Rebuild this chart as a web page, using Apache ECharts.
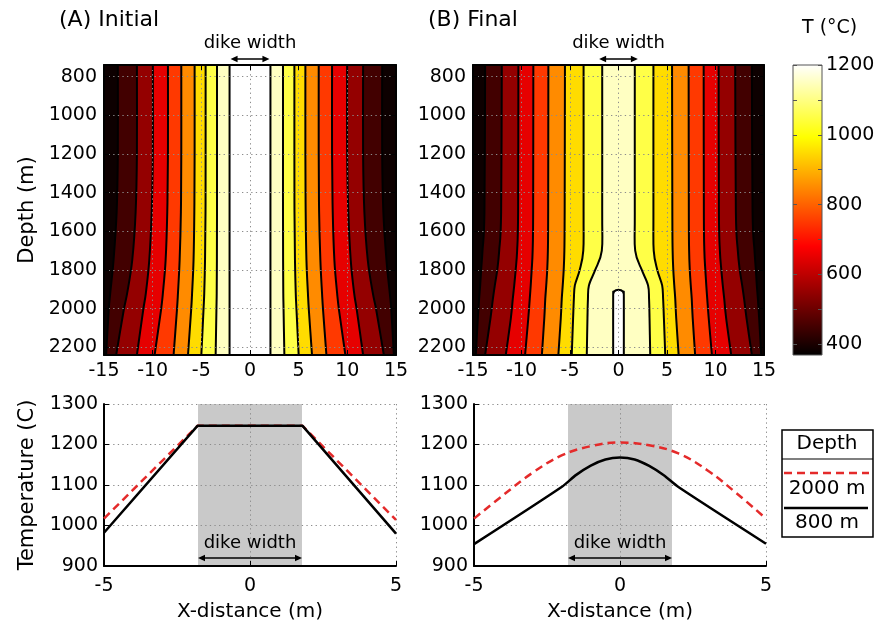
<!DOCTYPE html>
<html>
<head>
<meta charset="utf-8">
<title>Dike temperature</title>
<script src="https://cdn.jsdelivr.net/npm/echarts@6/dist/echarts.min.js"></script>
<style>
html, body { margin: 0; padding: 0; background: #fff; }
#main { width: 875px; height: 624px; }
</style>
</head>
<body>
<div id="main"></div>
<script>
// isotherm levels (deg C) and colour bar
var levels = [400, 500, 600, 700, 800, 900, 1000, 1100, 1200];
var cbarRange = [369, 1200];
var cbarLabels = [400, 600, 800, 1000, 1200];
var cbarTicks = [400, 500, 600, 700, 800, 900, 1000, 1100, 1200];
var depthTicks = [800, 1000, 1200, 1400, 1600, 1800, 2000, 2200];

// (A) Initial: x (m) of each isotherm on the left side at depthA (field is mirrored about x = 0)
var depthA = [740, 1200, 1500, 1750, 1920, 2010, 2240];
var isoA = [
    [-13.58, -13.58, -13.70, -14.02, -14.36, -14.52, -14.78],
    [-11.62, -11.62, -11.75, -12.10, -12.62, -12.98, -13.75],
    [-9.98, -9.98, -10.10, -10.35, -10.70, -10.98, -11.62],
    [-8.43, -8.43, -8.50, -8.67, -8.95, -9.15, -9.80],
    [-7.06, -7.06, -7.10, -7.23, -7.40, -7.51, -7.85],
    [-5.69, -5.69, -5.72, -5.80, -5.95, -6.05, -6.37],
    [-4.56, -4.56, -4.57, -4.62, -4.70, -4.78, -5.00],
    [-3.39, -3.39, -3.39, -3.40, -3.42, -3.45, -3.53],
    [-2.10, -2.10, -2.10, -2.10, -2.10, -2.10, -2.10]
];

// (B) Final
var depthB = [740, 1500, 1700, 1800, 1880, 1950, 2050, 2240];
var isoB = [
    [-13.75, -13.82, -14.02, -14.16, -14.26, -14.37, -14.50, -14.71],
    [-12.03, -12.10, -12.30, -12.50, -12.75, -12.95, -13.20, -13.75],
    [-10.32, -10.35, -10.45, -10.60, -10.75, -10.90, -11.10, -11.62],
    [-8.78, -8.80, -8.85, -8.95, -9.05, -9.15, -9.30, -9.63],
    [-7.23, -7.25, -7.28, -7.35, -7.45, -7.55, -7.65, -7.90],
    [-5.52, -5.55, -5.58, -5.65, -5.75, -5.85, -5.95, -6.20],
    [-3.60, -3.60, -3.63, -4.00, -4.50, -4.60, -4.68, -4.82],
    [-1.68, -1.68, -1.72, -2.40, -3.05, -3.15, -3.20, -3.27]
];
// closed 1200 isotherm at the bottom of (B)
var tipDepth = [1902, 1905, 1911, 1921, 1940, 2240];
var tipX = [0, -0.26, -0.43, -0.52, -0.55, -0.55];

// temperature profiles across the dike
var xA = [-5, -1.8, 1.8, 5];
var tA800 = [982, 1246, 1246, 980];
var tA2000 = [1017, 1246, 1246, 1014];
var xB800 = [-5, -2, -1.5, -1, -0.5, 0, 0.5, 1, 1.5, 2, 5];
var tB800 = [954, 1095, 1125, 1148, 1163, 1168, 1163, 1147, 1124, 1095, 955];
var xB2000 = [-5, -4, -3, -2, -1, 0, 1, 2, 3, 4, 5];
var tB2000 = [1017, 1075, 1130, 1173, 1196, 1205, 1198, 1178, 1136, 1079, 1017];

var dikeHalf = 1.78;   // shaded band in the profiles
var arrowHalf = 2.0;   // arrow above the maps

var FONT = 'DejaVu Sans';

function pairs(xs, ys) {
    return xs.map(function (x, i) { return [x, ys[i]]; });
}

function hot(t) {
    t = Math.max(0, Math.min(1, t));
    var r = Math.min(1, t / 0.375);
    var g = Math.max(0, Math.min(1, (t - 0.375) / 0.375));
    var b = Math.max(0, (t - 0.75) / 0.25);
    return 'rgb(' + Math.round(r * 255) + ',' + Math.round(g * 255) + ',' + Math.round(b * 255) + ')';
}
function bandColor(k) {
    if (k >= levels.length - 1) return '#ffffff';
    var lo = k < 0 ? cbarRange[0] : levels[k];
    var hi = levels[k + 1];
    return hot(((lo + hi) / 2 - cbarRange[0]) / (cbarRange[1] - cbarRange[0]));
}

// catmull-rom through screen points -> svg path
function curve(pts, cmd) {
    var d = cmd + pts[0][0] + ' ' + pts[0][1];
    for (var i = 0; i < pts.length - 1; i++) {
        var p0 = pts[i - 1] || pts[i], p1 = pts[i], p2 = pts[i + 1], p3 = pts[i + 2] || p2;
        d += ' C' + (p1[0] + (p2[0] - p0[0]) / 6) + ' ' + (p1[1] + (p2[1] - p0[1]) / 6) +
            ' ' + (p2[0] - (p3[0] - p1[0]) / 6) + ' ' + (p2[1] - (p3[1] - p1[1]) / 6) +
            ' ' + p2[0] + ' ' + p2[1];
    }
    return d;
}
function side(api, xs, ds, sign) {
    return xs.map(function (x, i) { return api.coord([sign * x, ds[i]]); });
}
function tipLoop(api) {
    var l = pairs(tipX, tipDepth);
    var loop = l.slice().reverse().concat(l.slice(1).map(function (p) { return [-p[0], p[1]]; }));
    return loop.map(function (p) { return api.coord(p); });
}

function fillRender(iso, depth, withTip) {
    return function (params, api) {
        var k = api.value(0);
        var d;
        if (withTip && k === iso.length) {
            d = curve(tipLoop(api), 'M') + ' Z';
        } else {
            var left = side(api, iso[k], depth, 1);
            var right = side(api, iso[k], depth, -1).reverse();
            d = curve(left, 'M') + ' ' + curve(right, 'L') + ' Z';
        }
        return { type: 'path', shape: { pathData: d }, style: { fill: bandColor(k), stroke: null } };
    };
}
function lineRender(iso, depth, withTip) {
    return function (params, api) {
        var k = api.value(0);
        var st = { fill: 'none', stroke: '#000', lineWidth: 2 };
        if (withTip && k === iso.length) {
            return { type: 'path', shape: { pathData: curve(tipLoop(api), 'M') }, style: st };
        }
        return { type: 'group', children: [
            { type: 'path', shape: { pathData: curve(side(api, iso[k], depth, 1), 'M') }, style: st },
            { type: 'path', shape: { pathData: curve(side(api, iso[k], depth, -1), 'M') }, style: st }
        ] };
    };
}

function arrow(x1, x2, y) {
    var h = 7, w = 3.3;
    return [
        { type: 'line', shape: { x1: x1 + 3, y1: y, x2: x2 - 3, y2: y }, style: { stroke: '#000', lineWidth: 1.5 } },
        { type: 'polygon', shape: { points: [[x1, y], [x1 + h, y - w], [x1 + h, y + w]] }, style: { fill: '#000' } },
        { type: 'polygon', shape: { points: [[x2, y], [x2 - h, y - w], [x2 - h, y + w]] }, style: { fill: '#000' } }
    ];
}
function dikeLabel(x, y) {
    return { type: 'text', style: { text: 'dike width', x: x, y: y, align: 'center', verticalAlign: 'middle',
        font: '18px "' + FONT + '"', fill: '#000' } };
}
function mapNote(params, api) {
    var a = api.coord([-arrowHalf, depthA[0]]);
    var b = api.coord([arrowHalf, depthA[0]]);
    var c = api.coord([0, depthA[0]]);
    return { type: 'group', children: arrow(a[0], b[0], a[1] - 6).concat([dikeLabel(c[0], a[1] - 22)]) };
}
function bandRender(params, api) {
    var a = api.coord([-dikeHalf, 1300]);
    var b = api.coord([dikeHalf, 900]);
    var c = api.coord([0, 900]);
    return { type: 'group', children: [
        { type: 'rect', shape: { x: a[0], y: a[1], width: b[0] - a[0], height: b[1] - a[1] }, style: { fill: '#c9c9c9' } }
    ].concat(arrow(a[0], b[0], c[1] - 8)).concat([dikeLabel(c[0], c[1] - 23)]) };
}
function cbarRender(params, api) {
    var a = api.coord([0, cbarRange[1]]);
    var b = api.coord([1, cbarRange[0]]);
    return { type: 'rect', shape: { x: a[0], y: a[1], width: b[0] - a[0], height: b[1] - a[1] },
        style: { stroke: '#555', lineWidth: 1, fill: { type: 'linear', x: 0, y: 1, x2: 0, y2: 0, colorStops: [
            { offset: 0, color: '#000000' }, { offset: 0.375, color: '#ff0000' },
            { offset: 0.75, color: '#ffff00' }, { offset: 1, color: '#ffffff' }] } } };
}

function plain(v) { return String(v); }
var labelStyle = { color: '#000', fontSize: 19, fontFamily: FONT, formatter: plain };
var dots = { show: true, lineStyle: { color: '#8c8c8c', width: 1, type: [1.3, 3.3] } };
var frame = { show: true, onZero: false, lineStyle: { color: '#000', width: 2 } };
var inTick = { show: true, inside: true, length: 5, lineStyle: { color: '#000', width: 1 } };

function mapX(grid, pos) {
    return { gridIndex: grid, type: 'value', position: pos, min: -15, max: 15, interval: 5, z: 5,
        axisLine: frame, axisTick: inTick,
        axisLabel: pos === 'bottom' ? Object.assign({ margin: 7 }, labelStyle) : { show: false },
        splitLine: pos === 'bottom' ? dots : { show: false } };
}
function mapY(grid, pos, name) {
    return { gridIndex: grid, type: 'value', position: pos, inverse: true, min: depthA[0], max: depthA[depthA.length - 1], z: 5,
        name: name, nameLocation: 'middle', nameGap: 66, nameRotate: 90,
        nameTextStyle: { fontSize: 21, fontFamily: FONT, color: '#000' },
        axisLine: frame, axisTick: Object.assign({ customValues: depthTicks }, inTick),
        axisLabel: pos === 'left' ? Object.assign({ margin: 7, customValues: depthTicks }, labelStyle) : { show: false },
        splitLine: pos === 'left' ? dots : { show: false } };
}
function profX(grid) {
    return { gridIndex: grid, type: 'value', min: -5, max: 5, interval: 5, z: 2,
        name: 'X-distance (m)', nameLocation: 'middle', nameGap: 36,
        nameTextStyle: { fontSize: 20, fontFamily: FONT, color: '#000' },
        axisLine: frame, axisTick: inTick, axisLabel: Object.assign({ margin: 11 }, labelStyle), splitLine: dots };
}
function profY(grid, name) {
    return { gridIndex: grid, type: 'value', min: 900, max: 1300, interval: 100, z: 2,
        name: name, nameLocation: 'middle', nameGap: 66, nameRotate: 90,
        nameTextStyle: { fontSize: 21, fontFamily: FONT, color: '#000' },
        axisLine: frame, axisTick: inTick, axisLabel: Object.assign({ margin: 6 }, labelStyle), splitLine: dots };
}

var idxA = isoA.map(function (r, i) { return [i]; });
var idxB = isoB.map(function (r, i) { return [i]; }).concat([[isoB.length]]);

var chart = echarts.init(document.getElementById('main'), null, { renderer: 'canvas' });
chart.setOption({
    animation: false,
    backgroundColor: '#fff',
    textStyle: { fontFamily: FONT },
    grid: [
        { left: 104, top: 65, width: 292, height: 290, show: true, backgroundColor: bandColor(-1), borderWidth: 0, outerBoundsMode: 'none' },
        { left: 473, top: 65, width: 291, height: 290, show: true, backgroundColor: bandColor(-1), borderWidth: 0, outerBoundsMode: 'none' },
        { left: 793, top: 65, width: 29, height: 290, outerBoundsMode: 'none' },
        { left: 104, top: 404, width: 292, height: 162, outerBoundsMode: 'none' },
        { left: 474, top: 404, width: 292, height: 162, outerBoundsMode: 'none' }
    ],
    xAxis: [
        mapX(0, 'bottom'), mapX(0, 'top'), mapX(1, 'bottom'), mapX(1, 'top'),
        { gridIndex: 2, type: 'value', min: 0, max: 1, show: false },
        profX(3), profX(4)
    ],
    yAxis: [
        mapY(0, 'left', 'Depth (m)'), mapY(0, 'right', ''), mapY(1, 'left', ''), mapY(1, 'right', ''),
        { gridIndex: 2, type: 'value', position: 'right', min: cbarRange[0], max: cbarRange[1], z: 5,
            axisLine: { show: false, onZero: false }, splitLine: { show: false },
            axisTick: { show: true, inside: true, length: 4, customValues: cbarTicks, lineStyle: { color: '#555' } },
            axisLabel: Object.assign({ margin: 4, customValues: cbarLabels }, labelStyle) },
        { gridIndex: 2, type: 'value', position: 'left', min: cbarRange[0], max: cbarRange[1], z: 5,
            axisLine: { show: false, onZero: false }, splitLine: { show: false }, axisLabel: { show: false },
            axisTick: { show: true, inside: true, length: 4, customValues: cbarTicks, lineStyle: { color: '#555' } } },
        profY(3, 'Temperature (C)'), profY(4, '')
    ],
    series: [
        { type: 'custom', xAxisIndex: 0, yAxisIndex: 0, z: 2, data: idxA, renderItem: fillRender(isoA, depthA, false) },
        { type: 'custom', xAxisIndex: 0, yAxisIndex: 0, z: 3, data: idxA, renderItem: lineRender(isoA, depthA, false) },
        { type: 'custom', xAxisIndex: 0, yAxisIndex: 0, z: 6, data: [[0]], renderItem: mapNote },
        { type: 'custom', xAxisIndex: 2, yAxisIndex: 2, z: 2, data: idxB, renderItem: fillRender(isoB, depthB, true) },
        { type: 'custom', xAxisIndex: 2, yAxisIndex: 2, z: 3, data: idxB, renderItem: lineRender(isoB, depthB, true) },
        { type: 'custom', xAxisIndex: 2, yAxisIndex: 2, z: 6, data: [[0]], renderItem: mapNote },
        { type: 'custom', xAxisIndex: 4, yAxisIndex: 4, z: 2, data: [[0]], renderItem: cbarRender },
        { type: 'custom', xAxisIndex: 5, yAxisIndex: 6, z: 1, data: [[0]], renderItem: bandRender },
        { type: 'line', xAxisIndex: 5, yAxisIndex: 6, z: 3, data: pairs(xA, tA2000), symbol: 'none',
            lineStyle: { color: '#e42a2a', width: 2.5, type: [8, 5] } },
        { type: 'line', xAxisIndex: 5, yAxisIndex: 6, z: 4, data: pairs(xA, tA800), symbol: 'none',
            lineStyle: { color: '#000', width: 2.5 } },
        { type: 'custom', xAxisIndex: 6, yAxisIndex: 7, z: 1, data: [[0]], renderItem: bandRender },
        { type: 'line', xAxisIndex: 6, yAxisIndex: 7, z: 3, data: pairs(xB2000, tB2000), symbol: 'none', smooth: 0.4,
            lineStyle: { color: '#e42a2a', width: 2.5, type: [8, 5] } },
        { type: 'line', xAxisIndex: 6, yAxisIndex: 7, z: 4, data: pairs(xB800, tB800), symbol: 'none', smooth: 0.25,
            lineStyle: { color: '#000', width: 2.5 } }
    ],
    graphic: [
        { type: 'text', left: 59, top: 9, style: { text: '(A) Initial', font: '22px "' + FONT + '"', fill: '#000' } },
        { type: 'text', left: 428, top: 9, style: { text: '(B) Final', font: '22px "' + FONT + '"', fill: '#000' } },
        { type: 'text', left: 802, top: 19, style: { text: 'T (°C)', font: '19px "' + FONT + '"', fill: '#000' } },
        // legend box
        { type: 'rect', shape: { x: 782, y: 430, width: 91, height: 107 }, style: { fill: '#fff', stroke: '#000', lineWidth: 1.5 } },
        { type: 'line', shape: { x1: 782, y1: 459, x2: 873, y2: 459 }, style: { stroke: '#000', lineWidth: 1.2 } },
        { type: 'text', x: 827, y: 444, style: { text: 'Depth', align: 'center', verticalAlign: 'middle', font: '20px "' + FONT + '"', fill: '#000' } },
        { type: 'line', shape: { x1: 784, y1: 473, x2: 869, y2: 473 }, style: { stroke: '#e42a2a', lineWidth: 2.5, lineDash: [8, 5] } },
        { type: 'text', x: 827, y: 489, style: { text: '2000 m', align: 'center', verticalAlign: 'middle', font: '20px "' + FONT + '"', fill: '#000' } },
        { type: 'line', shape: { x1: 784, y1: 508, x2: 868, y2: 508 }, style: { stroke: '#000', lineWidth: 2.5 } },
        { type: 'text', x: 827, y: 523, style: { text: '800 m', align: 'center', verticalAlign: 'middle', font: '20px "' + FONT + '"', fill: '#000' } }
    ]
});
</script>
</body>
</html>
